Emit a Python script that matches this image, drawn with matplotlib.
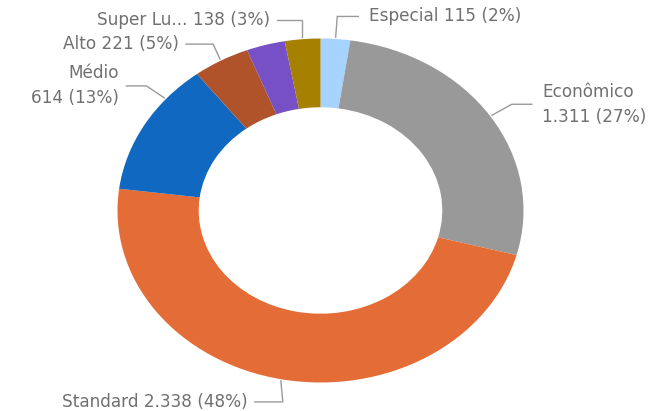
import matplotlib
matplotlib.use('Agg')
import matplotlib.pyplot as plt
import numpy as np

# data (clockwise from 12 o'clock)
categories = ['Especial', 'Econômico', 'Standard', 'Médio', 'Alto', 'Luxo', 'Super Lu...']
values = [115, 1311, 2338, 614, 221, 150, 138]
colors = ['#A6D3FF', '#999999', '#E46C36', '#1168C0', '#B0522A', '#7650C4', '#A68000']
label_text = ['Especial 115 (2%)', 'Econômico\n1.311 (27%)', 'Standard 2.338 (48%)',
              'Médio\n614 (13%)', 'Alto 221 (5%)', None, 'Super Lu... 138 (3%)']

# leader line layout: anchor angle shift (deg), elbow offset, horizontal run, text side
layout = {
    0: dict(shift=0, elbow=(0.008, 0.121), run=0.104, ha='left'),
    1: dict(shift=0, elbow=(0.097, 0.064), run=0.099, ha='left'),
    2: dict(shift=0, elbow=(0.010, -0.122), run=-0.138, ha='right'),
    3: dict(shift=10.5, elbow=(-0.088, 0.070), run=-0.099, ha='right'),
    4: dict(shift=0, elbow=(-0.034, 0.087), run=-0.133, ha='right'),
    6: dict(shift=0, elbow=(0.0, 0.104), run=-0.124, ha='right'),
}

fig = plt.figure(figsize=(6.49, 4.11), dpi=100)
ax = fig.add_axes([0, 0, 1, 1])

wedges, _ = ax.pie(values, colors=colors, startangle=90, counterclock=False,
                   radius=1.0, wedgeprops=dict(width=0.4, edgecolor='none'))
ax.set_aspect('auto')
ax.set_xlim(-320.5 / 203, (649 - 320.5) / 203)
ax.set_ylim(-(411 - 210.5) / 172, 210.5 / 172)
ax.axis('off')

total = sum(values)
cum = np.cumsum([0] + values)
for i, txt in enumerate(label_text):
    if txt is None:
        continue
    lay = layout[i]
    mid = (cum[i] + values[i] / 2) / total * 360 + lay['shift']
    a = np.deg2rad(mid)
    x0, y0 = np.sin(a) * 1.01, np.cos(a) * 1.01
    x1, y1 = x0 + lay['elbow'][0], y0 + lay['elbow'][1]
    x2 = x1 + lay['run']
    ax.plot([x0, x1, x2], [y0, y1, y1], color='#9a9a9a', lw=1.0,
            solid_joinstyle='miter', clip_on=False)
    gap = 0.05 if lay['ha'] == 'left' else -0.035
    ax.text(x2 + gap, y1, txt, ha=lay['ha'], va='center', fontsize=12.2,
            family='DejaVu Sans', color='#707070', linespacing=1.5)

fig.savefig('out.png', dpi=100)
